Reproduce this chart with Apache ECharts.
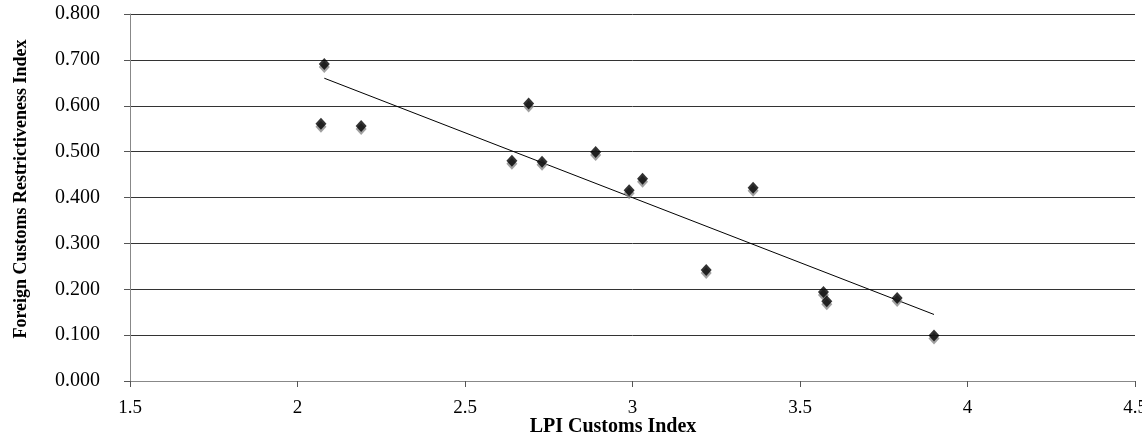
<!DOCTYPE html>
<html>
<head>
<meta charset="utf-8">
<script src="https://cdn.jsdelivr.net/npm/echarts@6/dist/echarts.min.js"></script>
<style>html,body{margin:0;padding:0;background:#fff;overflow:hidden}#c{width:1142px;height:435px}</style>
</head>
<body>
<div id="c"></div>
<script>
const lpiCustoms = [2.08, 2.07, 2.19, 2.64, 2.69, 2.73, 2.89, 2.99, 3.03, 3.36, 3.22, 3.57, 3.58, 3.79, 3.90];
const restrictiveness = [0.691, 0.561, 0.556, 0.480, 0.605, 0.478, 0.499, 0.416, 0.441, 0.421, 0.242, 0.194, 0.174, 0.181, 0.099];
const trendX = [2.08, 3.90];
const trendY = [0.660, 0.145];
const xTitle = 'LPI Customs Index';
const yTitle = 'Foreign Customs Restrictiveness Index';

const points = lpiCustoms.map((x, i) => [x, restrictiveness[i]]);
const trend = trendX.map((x, i) => [x, trendY[i]]);
const font = '"Liberation Serif", "Times New Roman", serif';

const chart = echarts.init(document.getElementById('c'));
chart.setOption({
  animation: false,
  backgroundColor: '#fff',
  grid: { left: 130, right: 7, top: 14, bottom: 54, containLabel: false, outerBoundsMode: 'none' },
  graphic: [
    {
      type: 'text', x: 613, y: 427,
      style: { text: xTitle, font: 'bold 20px ' + font, fill: '#000', align: 'center', verticalAlign: 'middle' }
    },
    {
      type: 'text', x: 21, y: 189, rotation: Math.PI / 2,
      style: { text: yTitle, font: 'bold 18px ' + font, fill: '#000', align: 'center', verticalAlign: 'middle' }
    }
  ],
  xAxis: {
    type: 'value', min: 1.5, max: 4.5, interval: 0.5,
    axisLine: { show: true, lineStyle: { color: '#888', width: 1 } },
    axisTick: { show: true, length: 6, lineStyle: { color: '#555' } },
    axisLabel: { fontFamily: font, fontSize: 19, color: '#000', margin: 18, formatter: v => String(v) },
    splitLine: { show: false }
  },
  yAxis: {
    type: 'value', min: 0, max: 0.8, interval: 0.1,
    axisLine: { show: true, lineStyle: { color: '#888', width: 1 } },
    axisTick: { show: true, length: 6, lineStyle: { color: '#555' } },
    axisLabel: { fontFamily: font, fontSize: 20, color: '#000', margin: 30, formatter: v => v.toFixed(3) },
    splitLine: { show: true, lineStyle: { color: '#333', width: 1 } }
  },
  series: [
    {
      type: 'scatter', data: points, symbol: 'diamond', symbolSize: [11, 12],
      itemStyle: { color: '#000', shadowColor: '#888', shadowOffsetY: 3, shadowOffsetX: 0, shadowBlur: 0 },
      z: 3
    },
    {
      type: 'line', data: trend, symbol: 'none', silent: true,
      lineStyle: { color: '#000', width: 1 }, z: 2
    }
  ]
});
</script>
</body>
</html>
